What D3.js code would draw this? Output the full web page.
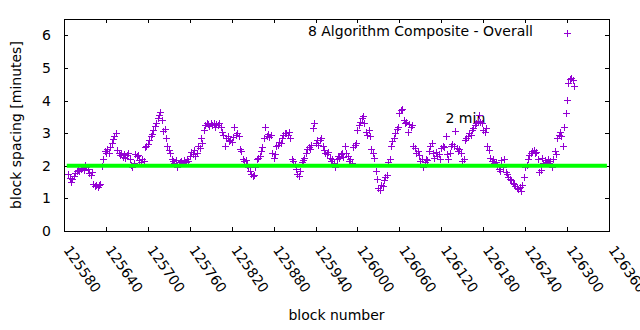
<!DOCTYPE html>
<html>
<head>
<meta charset="utf-8">
<script src="https://cdn.jsdelivr.net/npm/d3@7"></script>
<style>
  body { margin: 0; background: #fff; }
  svg { display: block; font-family: "DejaVu Sans", sans-serif; }
  .label { font-size: 14px; fill: #000; }
</style>
</head>
<body>
<div id="chart"></div>
<script>
// block spacing in minutes, one value every 2 blocks starting at firstBlock
var firstBlock = 125586;
var blockStep = 2;
var spacing = [
  1.74, 1.62, 1.50, 1.58, 1.70, 1.78, 1.84, 1.88, 1.85, 1.90,
  1.92, 1.88, 2.02, 1.95, 1.90, 1.78, 1.72, 1.80, 1.45, 1.38,
  1.42, 1.35, 1.40, 1.45, 2.00, 2.20, 2.45, 2.38, 2.52, 2.40,
  2.58, 2.70, 2.82, 2.92, 3.00, 2.48, 2.40, 2.32, 2.38, 2.28,
  2.35, 2.25, 2.32, 2.40, 2.20, 2.02, 1.96, 2.10, 2.36, 2.30,
  2.32, 2.18, 2.12, 2.22, 2.15, 2.58, 2.62, 2.66, 2.80, 2.90,
  2.98, 3.10, 3.22, 3.30, 3.45, 3.55, 3.65, 3.40, 3.08, 3.12,
  2.85, 2.60, 2.48, 2.40, 2.22, 2.15, 2.10, 2.18, 1.95, 2.05,
  2.12, 2.15, 2.08, 2.18, 2.12, 2.20, 2.15, 2.30, 2.42, 2.35,
  2.48, 2.30, 2.38, 2.60, 2.55, 2.85, 2.70, 3.10, 3.25, 3.30,
  3.28, 3.22, 3.30, 3.25, 3.32, 3.20, 3.28, 3.24, 3.30, 3.18,
  3.05, 2.95, 2.60, 2.85, 2.90, 2.75, 2.80, 2.72, 2.88, 3.20,
  2.95, 3.00, 2.92, 2.50, 2.45, 2.20, 2.15, 2.18, 2.02, 1.95,
  1.85, 1.75, 1.68, 1.72, 1.95, 2.20, 2.25, 2.30, 2.45, 2.58,
  2.85, 3.20, 2.92, 2.98, 2.88, 2.95, 2.40, 2.25, 2.35, 2.60,
  2.65, 2.72, 2.70, 2.85, 2.95, 3.02, 3.00, 2.95, 3.05, 2.85,
  2.20, 2.15, 2.05, 1.90, 1.75, 1.68, 1.85, 2.12, 2.18, 2.25,
  2.40, 2.50, 2.58, 2.52, 2.65, 3.15, 3.30, 2.70, 2.78, 2.65,
  2.80, 2.85, 2.62, 2.48, 2.40, 2.35, 2.42, 2.25, 2.15, 2.20,
  2.10, 1.95, 2.22, 2.30, 2.25, 2.35, 2.38, 2.28, 2.62, 2.40,
  2.30, 2.15, 2.20, 2.10, 2.58, 2.65, 2.70, 3.10, 3.25, 3.35,
  3.45, 3.52, 3.30, 3.05, 2.95, 3.10, 2.90, 2.50, 2.38, 2.25,
  1.85, 1.58, 1.32, 1.25, 1.42, 1.38, 1.55, 1.65, 1.72, 2.12,
  2.20, 2.60, 2.75, 2.85, 3.00, 3.12, 3.20, 3.62, 3.70, 3.75,
  3.40, 3.30, 3.35, 3.05, 3.28, 3.20, 3.25, 2.62, 2.55, 2.40,
  2.45, 2.32, 2.15, 2.22, 1.95, 2.12, 2.20, 2.18, 2.45, 2.62,
  2.70, 2.38, 2.25, 2.42, 2.30, 2.35, 2.22, 2.55, 2.62, 2.58,
  2.92, 2.35, 2.22, 2.40, 2.62, 2.68, 2.60, 3.08, 2.55, 2.45,
  2.52, 2.40, 2.15, 2.20, 2.78, 2.85, 2.90, 3.00, 2.95, 3.10,
  3.15, 3.25, 3.30, 3.38, 3.55, 3.35, 3.30, 3.10, 3.05, 3.15,
  2.62, 2.48, 2.25, 2.15, 2.20, 2.08, 2.12, 2.00, 1.90, 1.85,
  2.18, 1.95, 2.20, 1.80, 1.75, 1.65, 1.60, 1.55, 1.48, 1.45,
  1.38, 1.32, 1.28, 1.35, 1.22, 1.40, 1.65, 1.95, 2.02, 2.22,
  2.32, 2.40, 2.45, 2.48, 2.38, 2.42, 2.20, 1.80, 1.88, 2.25,
  2.10, 2.18, 2.12, 2.20, 2.08, 2.15, 1.95, 2.22, 2.45, 2.35,
  2.85, 2.95, 3.05, 2.90, 2.62, 3.20, 3.63, 4.02, 4.55, 4.65,
  4.70, 4.62, 4.45
];

var xTicks = [125580, 125640, 125700, 125760, 125820, 125880, 125940,
              126000, 126060, 126120, 126180, 126240, 126300, 126360];
var yTicks = [0, 1, 2, 3, 4, 5, 6];

// 2 minute target line and its label
var targetValue = 2;
var targetBlocks = [125584, 126357];
var targetLabel = "2 min";
var targetLabelAt = [126126, 3.32];
var seriesName = "8 Algorithm Composite - Overall";

var margin = { top: 19, right: 31, bottom: 99, left: 64 };
var width = 640 - margin.left - margin.right;
var height = 330 - margin.top - margin.bottom;
var tickLen = 4;

var points = spacing.map(function(v, i){
  return { block: firstBlock + i * blockStep, value: v };
});

var svg = d3.select("#chart").append("svg")
  .attr("width", 640)
  .attr("height", 330);

var g = svg.append("g")
  .attr("transform", "translate(" + margin.left + "," + margin.top + ")");

var x = d3.scaleLinear().domain([125580, 126360]).range([0, width]);
var y = d3.scaleLinear().domain([0, 6.5]).range([height, 0]);

// Axes (ticks inside, mirrored on top and right like gnuplot)
var bottom = g.append("g")
  .attr("transform", "translate(0," + height + ")")
  .call(d3.axisBottom(x).tickValues(xTicks).tickSizeInner(-tickLen).tickSizeOuter(0).tickFormat(""));
var top = g.append("g")
  .call(d3.axisTop(x).tickValues(xTicks).tickSizeInner(-tickLen).tickSizeOuter(0).tickFormat(""));
var left = g.append("g")
  .call(d3.axisLeft(y).tickValues(yTicks).tickSizeInner(-tickLen).tickSizeOuter(0).tickFormat(""));
var right = g.append("g")
  .attr("transform", "translate(" + width + ",0)")
  .call(d3.axisRight(y).tickValues(yTicks).tickSizeInner(-tickLen).tickSizeOuter(0).tickFormat(""));

g.selectAll(".domain").remove();
g.selectAll(".tick line").attr("stroke", "#000").attr("shape-rendering", "crispEdges");

g.append("rect")
  .attr("x", 0.5).attr("y", 0.5)
  .attr("width", width).attr("height", height)
  .attr("fill", "none").attr("stroke", "#000")
  .attr("shape-rendering", "crispEdges");

// y tick labels
g.selectAll(".ylab").data(yTicks).enter().append("text")
  .attr("class", "label ylab")
  .attr("text-anchor", "end")
  .attr("x", -13)
  .attr("y", function(d){ return y(d) + 5; })
  .text(function(d){ return d; });

// x tick labels, rotated
g.selectAll(".xlab").data(xTicks).enter().append("text")
  .attr("class", "label xlab")
  .attr("text-anchor", "start")
  .attr("transform", function(d){
    return "translate(" + (x(d) - 1) + "," + (height + 19) + ")rotate(55)";
  })
  .text(function(d){ return d; });

// axis titles
svg.append("text")
  .attr("class", "label")
  .attr("text-anchor", "middle")
  .attr("transform", "translate(21," + (margin.top + height / 2) + ")rotate(-90)")
  .text("block spacing [minutes]");

svg.append("text")
  .attr("class", "label")
  .attr("text-anchor", "middle")
  .attr("x", margin.left + width / 2)
  .attr("y", 320)
  .text("block number");

// "2 min" label sits under the points
g.append("text")
  .attr("class", "label")
  .attr("x", x(targetLabelAt[0]))
  .attr("y", y(targetLabelAt[1]))
  .text(targetLabel);

// legend
g.append("text")
  .attr("class", "label")
  .attr("text-anchor", "end")
  .attr("x", 469)
  .attr("y", 16.5)
  .text(seriesName);

function plus(px, py){
  px = Math.round(px) + 0.5;
  py = Math.round(py) + 0.5;
  return "M" + (px - 3.5) + "," + py + "h7M" + px + "," + (py - 3.5) + "v7";
}

g.append("path")
  .attr("d", plus(503, 14))
  .attr("stroke", "#9400d3").attr("fill", "none").attr("stroke-width", 1);

// points
g.append("g").selectAll("path").data(points).enter().append("path")
  .attr("d", function(d){ return plus(x(d.block), y(d.value)); })
  .attr("stroke", "#9400d3")
  .attr("fill", "none")
  .attr("stroke-width", 1);

// target line
g.append("line")
  .attr("x1", x(targetBlocks[0]))
  .attr("x2", x(targetBlocks[1]))
  .attr("y1", y(targetValue))
  .attr("y2", y(targetValue))
  .attr("stroke", "#00ff00")
  .attr("stroke-width", 4);
</script>
</body>
</html>
